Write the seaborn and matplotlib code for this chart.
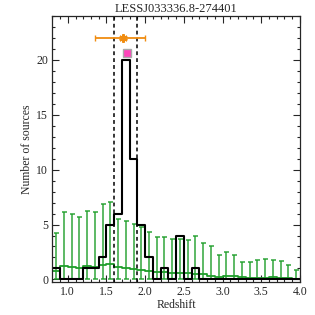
import numpy as np
import pandas as pd
import seaborn as sns
import matplotlib
matplotlib.use("Agg")
import matplotlib.pyplot as plt
from matplotlib.ticker import MultipleLocator

# histogram of photometric redshifts (bin width 0.1, from 0.8 to 4.0)
bin_edges = [round(0.8 + 0.1 * i, 2) for i in range(33)]
bin_centres = [round(e + 0.05, 2) for e in bin_edges[:-1]]
counts = [1, 0, 0, 0, 1, 1, 2, 5, 6, 20, 11, 5, 2, 0, 1, 0,
          4, 0, 1, 0, 0, 0, 0, 0, 0, 0, 0, 0, 0, 0, 0, 0]

# background (random position) distribution and its upper error
bg_mean = [0.8, 1.2, 1.15, 1.0, 1.2, 1.15, 1.3, 1.45, 1.1, 1.0, 0.95, 0.85,
           0.75, 0.7, 0.65, 0.6, 0.55, 0.55, 0.5, 0.45, 0.35, 0.2, 0.35, 0.3,
           0.2, 0.15, 0.1, 0.15, 0.2, 0.15, 0.1, 0.05]
bg_top = [4.2, 6.1, 6.0, 5.65, 6.25, 6.15, 6.9, 7.1, 5.55, 5.3, 5.05, 4.8,
          4.35, 3.9, 3.85, 3.65, 3.65, 3.6, 3.95, 3.35, 3.0, 2.2, 2.5, 2.2,
          1.55, 1.6, 1.75, 1.9, 1.75, 1.65, 1.3, 0.9]

# redshift of the source and its range
z_src, z_lo, z_hi, z_row = 1.72, 1.35, 2.0, 22
z_peak, peak_y = 1.76, 20.6
z_window = [1.6, 1.9]

df = pd.DataFrame({"z": bin_centres, "n": counts})

sns.set_style("ticks")
plt.rcParams["font.family"] = ["Liberation Serif", "DejaVu Serif"]

fig = plt.figure(figsize=(3.15, 3.15), dpi=100)
ax = fig.add_axes([0.166, 0.106, 0.786, 0.843])

green = "#1f9e2a"
bg_mean = np.array(bg_mean)
bg_top = np.array(bg_top)
ax.errorbar(bin_centres, bg_mean, yerr=[bg_mean, bg_top - bg_mean], fmt="none",
            ecolor=green, elinewidth=1.2, capsize=1.8, capthick=1.2, alpha=0.85)
sns.lineplot(x=bin_edges[:-1] + [4.0], y=list(bg_mean) + [bg_mean[-1]],
             drawstyle="steps-post", color=green, lw=1.3, ax=ax)

sns.histplot(data=df, x="z", weights="n", bins=bin_edges, element="step",
             fill=False, color="black", lw=1.5, ax=ax)

for zz in z_window:
    ax.axvline(zz, color="black", ls=(0, (2.5, 2)), lw=1.1)

# asterisk-like marker for the source redshift
ax.errorbar([z_src], [z_row], xerr=[[z_src - z_lo], [z_hi - z_src]],
            fmt="none", ecolor="#f08c10", elinewidth=1.3, capsize=2.5)
ax.plot([z_src], [z_row], marker=(6, 2, 0), color="#f08c10", ms=6, mew=1.6)
ax.plot([z_peak], [peak_y], "s", color="#ff44bb", mec="#aaaaaa", ms=6)

ax.set_xlim(0.8, 4.0)
ax.set_ylim(-0.2, 24)
ax.xaxis.set_major_locator(MultipleLocator(0.5))
ax.xaxis.set_minor_locator(MultipleLocator(0.1))
ax.yaxis.set_major_locator(MultipleLocator(5))
ax.yaxis.set_minor_locator(MultipleLocator(1))
ax.tick_params(which="both", direction="in", top=True, right=True,
               labelsize=8.5, width=0.8, pad=3)
ax.tick_params(which="major", length=5)
ax.tick_params(which="minor", length=2.5)
ax.set_xticks([1.0, 1.5, 2.0, 2.5, 3.0, 3.5, 4.0])
ax.set_xticklabels(["1.0", "1.5", "2.0", "2.5", "3.0", "3.5", "4.0"])
for s in ax.spines.values():
    s.set_linewidth(0.9)

ax.set_xlabel("Redshift", fontsize=8.5, labelpad=1)
ax.set_ylabel("Number of sources", fontsize=8.5, labelpad=2)
ax.set_title("LESSJ033336.8-274401", fontsize=9, pad=3)

fig.savefig("out.png", dpi=100)
